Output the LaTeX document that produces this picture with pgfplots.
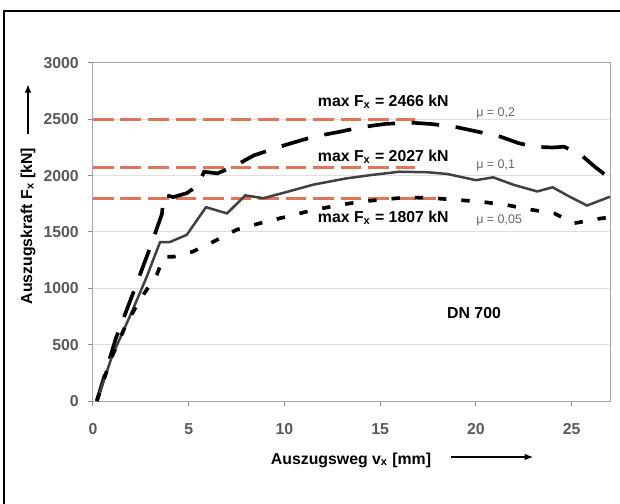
\documentclass[border=0pt]{standalone}
\usepackage{fontspec}
\setmainfont{Liberation Sans}
\usepackage{pgfplots}
\pgfplotsset{compat=1.18}
\usetikzlibrary{arrows.meta}
\definecolor{redline}{RGB}{224,118,88}
\begin{document}
\begin{tikzpicture}
\begin{axis}[name=ax, scale only axis, width=310.2pt, height=202.8pt,
 xmin=0, xmax=27, ymin=0, ymax=3000,
 xtick={0,5,...,25}, ytick={0,500,...,3000},
 ymajorgrids, grid style={black!13, line width=0.6pt},
 axis line style={black!35, line width=0.6pt},
 tick style={black!45, line width=0.6pt}, major tick length=3pt, tick align=outside,
 tick pos=left,
 ticklabel style={font=\bfseries\fontsize{9.5}{11}\selectfont, text=black!65},
 /pgf/number format/assume math mode=true,
 /pgf/number format/1000 sep={},
 xticklabel style={yshift=-7pt},
 yticklabel style={xshift=-2pt},
 clip=false,
]
% reference lines (max values)
\addplot[redline, line width=1.8pt, dash pattern=on 12.5pt off 4pt] coordinates {(0,2500) (16.8,2500)};
\addplot[redline, line width=1.8pt, dash pattern=on 12.5pt off 4pt] coordinates {(0,2075) (16.8,2075)};
\addplot[redline, line width=1.8pt, dash pattern=on 12.5pt off 4pt] coordinates {(0,1800) (17.9,1800)};
% mu = 0,2
\addplot[black, line width=2.2pt, dash pattern=on 16.5pt off 10pt] coordinates {
(0.2,0) (1.2,560) (2.1,960) (3.0,1370) (3.6,1660) (3.7,1830) (4.2,1810) (4.9,1845) (5.5,1915) (5.8,2035) (6.5,2020) (7.5,2095) (8.4,2180) (10,2270) (11.5,2345) (12.9,2390) (14,2430) (15.3,2460) (16.7,2470) (17.7,2458) (19.0,2430) (20.1,2390) (21.3,2345) (22.2,2290) (23.0,2257) (24,2250) (24.6,2257) (25.5,2183) (26.2,2080) (27,1975)};
% mu = 0,1
\addplot[black!75, line width=1.5pt] coordinates {
(0.2,0) (1,400) (2,780) (2.8,1100) (3.5,1410) (4.0,1410) (4.9,1475) (5.9,1720) (7.0,1665) (7.95,1825) (8.9,1800) (10,1850) (11.5,1920) (13.2,1975) (14.5,2005) (16.0,2035) (17.5,2030) (18.5,2015) (20.0,1960) (20.9,1985) (22.0,1917) (23.2,1860) (24.0,1897) (24.9,1813) (25.8,1735) (27,1813)};
% mu = 0,05
\addplot[black, line width=2.2pt, dash pattern=on 5pt off 9pt] coordinates {
(0.2,0) (0.9,360) (1.76,690) (2.46,900) (3.33,1120) (3.7,1280) (4.2,1280) (5.2,1325) (6.3,1415) (7.5,1520) (8.7,1577) (10.1,1636) (11.5,1695) (12.9,1740) (14,1770) (16.4,1808) (17.8,1800) (19,1785) (20.2,1770) (21.6,1740) (22.8,1700) (24.1,1665) (25.1,1577) (26.5,1620) (27,1630)};
% annotations
\node[font=\bfseries\fontsize{9.5}{11}\selectfont] at (axis cs:15.16,2654) {max F\textsubscript{x} = 2466 kN};
\node[font=\bfseries\fontsize{9.5}{11}\selectfont] at (axis cs:15.16,2166) {max F\textsubscript{x} = 2027 kN};
\node[font=\bfseries\fontsize{9.5}{11}\selectfont] at (axis cs:15.16,1624) {max F\textsubscript{x} = 1807 kN};
\node[anchor=west, inner sep=0pt, font=\fontsize{7.5}{9}\selectfont, text=black!60] at (axis cs:20.0,2556) {μ = 0,2};
\node[anchor=west, inner sep=0pt, font=\fontsize{7.5}{9}\selectfont, text=black!60] at (axis cs:20.0,2095) {μ = 0,1};
\node[anchor=west, inner sep=0pt, font=\fontsize{7.5}{9}\selectfont, text=black!60] at (axis cs:20.0,1606) {μ = 0,05};
\node[font=\bfseries\fontsize{9.5}{11}\selectfont] at (axis cs:19.9,781) {DN 700};
\end{axis}
\begin{scope}[shift={(ax.south west)}]
\node[rotate=90, font=\bfseries\fontsize{9.5}{11}\selectfont] at (-39pt,105pt) {Auszugskraft F\textsubscript{x} [kN]};
\draw[line width=0.7pt, -{Latex[length=5pt,width=4pt]}] (-39pt,160pt) -- (-39pt,190pt);
\node[font=\bfseries\fontsize{9.5}{11}\selectfont] at (154.8pt,-35.4pt) {Auszugsweg v\textsubscript{x} [mm]};
\draw[line width=0.7pt, -{Latex[length=5pt,width=4pt]}] (214.8pt,-33.6pt) -- (264pt,-33.6pt);
\draw[line width=0.9pt] (-53.4pt,-62pt) -- (-53.4pt,234pt) -- (317pt,234pt);
\end{scope}
\pgfresetboundingbox
\path[use as bounding box] ([xshift=-55.8pt,yshift=-61.8pt]ax.south west) rectangle ([xshift=6pt,yshift=37.8pt]ax.north east);
\end{tikzpicture}
\end{document}
